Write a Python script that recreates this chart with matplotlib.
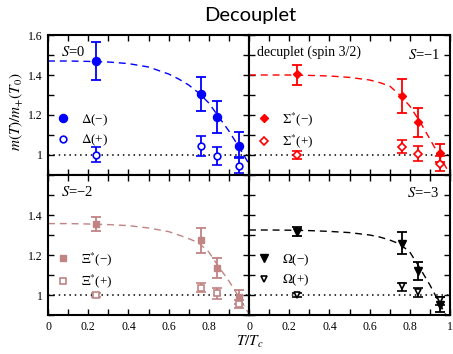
import matplotlib
matplotlib.use("Agg")
import matplotlib.pyplot as plt
from matplotlib.ticker import MultipleLocator, FixedLocator, FuncFormatter

plt.rcParams['font.family'] = 'Liberation Serif'
plt.rcParams['mathtext.fontset'] = 'stix'
plt.rcParams['axes.unicode_minus'] = True

# temperatures T/Tc
temps = [0.24, 0.76, 0.84, 0.95]

# S=0, Delta
delta_m = [1.469, 1.307, 1.191, 1.047]
delta_m_lo = [1.377, 1.218, 1.110, 0.990]
delta_m_hi = [1.566, 1.392, 1.270, 1.114]
delta_p = [1.0, 1.045, 0.996, 0.945]
delta_p_lo = [0.963, 0.993, 0.948, 0.910]
delta_p_hi = [1.038, 1.094, 1.042, 0.985]

# S=-1, Sigma*
sigma_m = [1.404, 1.295, 1.166, 1.010]
sigma_m_lo = [1.352, 1.211, 1.092, 0.963]
sigma_m_hi = [1.451, 1.382, 1.234, 1.055]
sigma_p = [1.0, 1.042, 1.006, 0.955]
sigma_p_lo = [0.980, 1.008, 0.970, 0.920]
sigma_p_hi = [1.018, 1.075, 1.043, 0.993]

# S=-2, Xi*
xi_m = [1.357, 1.274, 1.134, 0.989]
xi_m_lo = [1.322, 1.211, 1.083, 0.955]
xi_m_hi = [1.390, 1.337, 1.183, 1.025]
xi_p = [1.0, 1.036, 1.008, 0.955]
xi_p_lo = [0.988, 1.016, 0.978, 0.935]
xi_p_hi = [1.012, 1.061, 1.036, 0.977]

# S=-3, Omega
om_m = [1.317, 1.253, 1.120, 0.950]
om_m_lo = [1.296, 1.205, 1.075, 0.914]
om_m_hi = [1.342, 1.316, 1.167, 0.990]
om_p = [1.0, 1.043, 1.013, 0.973]
om_p_lo = [0.990, 1.018, 0.990, 0.950]
om_p_hi = [1.010, 1.059, 1.033, 0.992]

# dashed fit curves
curve_x = [0, 0.1, 0.2, 0.3, 0.4, 0.5, 0.6, 0.65, 0.7, 0.75, 0.8, 0.85, 0.9, 0.95, 1.0]
curve_delta = [1.47, 1.47, 1.468, 1.465, 1.457, 1.44, 1.405, 1.38, 1.35, 1.31, 1.26, 1.19, 1.12, 1.04, 0.955]
curve_sigma = [1.40, 1.40, 1.40, 1.398, 1.395, 1.388, 1.375, 1.362, 1.345, 1.30, 1.245, 1.167, 1.08, 0.99, 0.905]
curve_xi = [1.357, 1.357, 1.355, 1.352, 1.347, 1.335, 1.317, 1.30, 1.282, 1.26, 1.215, 1.14, 1.07, 0.99, 0.905]
curve_om = [1.325, 1.325, 1.324, 1.322, 1.318, 1.312, 1.30, 1.29, 1.275, 1.255, 1.215, 1.135, 1.05, 0.955, 0.86]

panels = [
    dict(m=delta_m, mlo=delta_m_lo, mhi=delta_m_hi, p=delta_p, plo=delta_p_lo, phi=delta_p_hi,
         curve=curve_delta, color='#0000ff', marker='o', ms=5.8, ms_open=4.8,
         labels=[r'$\Delta$(−)', r'$\Delta$(+)'], s='$S$=0'),
    dict(m=sigma_m, mlo=sigma_m_lo, mhi=sigma_m_hi, p=sigma_p, plo=sigma_p_lo, phi=sigma_p_hi,
         curve=curve_sigma, color='#ff0000', marker='D', ms=4.2, ms_open=3.6,
         labels=[r'$\Sigma^{*}$(−)', r'$\Sigma^{*}$(+)'], s='$S$=−1'),
    dict(m=xi_m, mlo=xi_m_lo, mhi=xi_m_hi, p=xi_p, plo=xi_p_lo, phi=xi_p_hi,
         curve=curve_xi, color='#c08484', marker='s', ms=5.0, ms_open=4.2,
         labels=[r'$\Xi^{*}$(−)', r'$\Xi^{*}$(+)'], s='$S$=−2'),
    dict(m=om_m, mlo=om_m_lo, mhi=om_m_hi, p=om_p, plo=om_p_lo, phi=om_p_hi,
         curve=curve_om, color='#000000', marker='v', ms=5.8, ms_open=4.8,
         labels=[r'$\Omega$(−)', r'$\Omega$(+)'], s='$S$=−3'),
]

fig = plt.figure(figsize=(4.53, 3.54), dpi=100)
W, H = 453, 354
boxes = [(48, 35), (249, 35), (48, 175), (249, 175)]

fmt = FuncFormatter(lambda v, p: ('%g' % round(v, 2)))

for i, (pan, (x0, y0)) in enumerate(zip(panels, boxes)):
    ax = fig.add_axes([x0 / W, 1 - (y0 + 140) / H, 201 / W, 140 / H])
    c = pan['color']
    ax.axhline(1.0, color='black', ls=(0, (1, 2.5)), lw=1.1, zorder=1)
    ax.plot(curve_x, pan['curve'], color=c, ls=(0, (5, 3.5)), lw=1.0, zorder=2)
    lo = [v - l for v, l in zip(pan['m'], pan['mlo'])]
    hi = [h - v for v, h in zip(pan['m'], pan['mhi'])]
    ax.errorbar(temps, pan['m'], yerr=[lo, hi], fmt=pan['marker'], color=c, mfc=c, mec=c,
                ms=pan['ms'], capsize=3.5, elinewidth=1.3, capthick=1.3, zorder=3)
    lo = [v - l for v, l in zip(pan['p'], pan['plo'])]
    hi = [h - v for v, h in zip(pan['p'], pan['phi'])]
    ax.errorbar(temps, pan['p'], yerr=[lo, hi], fmt=pan['marker'], color=c, mfc='white', mec=c,
                mew=1.2, ms=pan['ms_open'], capsize=3.5, elinewidth=1.3, capthick=1.3, zorder=3)

    # legend handles
    h1, = ax.plot([], [], pan['marker'], color=c, ms=pan['ms'])
    h2, = ax.plot([], [], pan['marker'], color=c, mfc='white', mew=1.2, ms=pan['ms_open'])
    ax.legend([h1, h2], pan['labels'], loc='center left', bbox_to_anchor=(0.0, 0.32),
              frameon=False, fontsize=9.5, handlelength=1.0, handletextpad=0.9,
              labelspacing=0.4, borderaxespad=0.2)

    ax.set_xlim(0, 1)
    ax.set_ylim(0.9, 1.6)
    ax.xaxis.set_major_locator(MultipleLocator(0.2))
    ax.xaxis.set_minor_locator(MultipleLocator(0.1))
    ax.yaxis.set_major_locator(MultipleLocator(0.2))
    ax.yaxis.set_minor_locator(MultipleLocator(0.1))
    ax.tick_params(which='both', direction='in', top=True, right=True, labelsize=8.5,
                   width=1.0, length=4.5, pad=4)
    for sp in ax.spines.values():
        sp.set_linewidth(1.5)

    if i % 2 == 0:
        ax.yaxis.set_major_formatter(fmt)
        if i == 2:
            ax.yaxis.set_major_locator(FixedLocator([1.0, 1.2, 1.4]))
    else:
        ax.tick_params(labelleft=False)
    if i >= 2:
        ax.xaxis.set_major_formatter(fmt)
        if i == 2:
            ax.xaxis.set_major_locator(FixedLocator([0, 0.2, 0.4, 0.6, 0.8]))
    else:
        ax.tick_params(labelbottom=False)

    if i % 2 == 0:
        ax.text(0.065, 0.875, pan['s'], transform=ax.transAxes, fontsize=10.5, va='center')
    else:
        ax.text(0.95, 0.86 if i == 1 else 0.87, pan['s'], transform=ax.transAxes,
                fontsize=10.5, va='center', ha='right')
    if i == 1:
        ax.text(0.04, 0.88, 'decuplet (spin 3/2)', transform=ax.transAxes,
                fontsize=10, va='center')

fig.text(250 / W, 1 - 16 / H, 'Decouplet', ha='center', va='center',
         fontsize=14.5, family='Lato')
fig.text(16 / W, 1 - 112 / H, r'$m(T)/m_{+}(T_0)$', rotation=90, ha='center',
         va='center', fontsize=11)
fig.text(250 / W, 1 - 342 / H, r'$T/T_c$', ha='center', va='center', fontsize=11)

fig.savefig('out.png', dpi=100)
